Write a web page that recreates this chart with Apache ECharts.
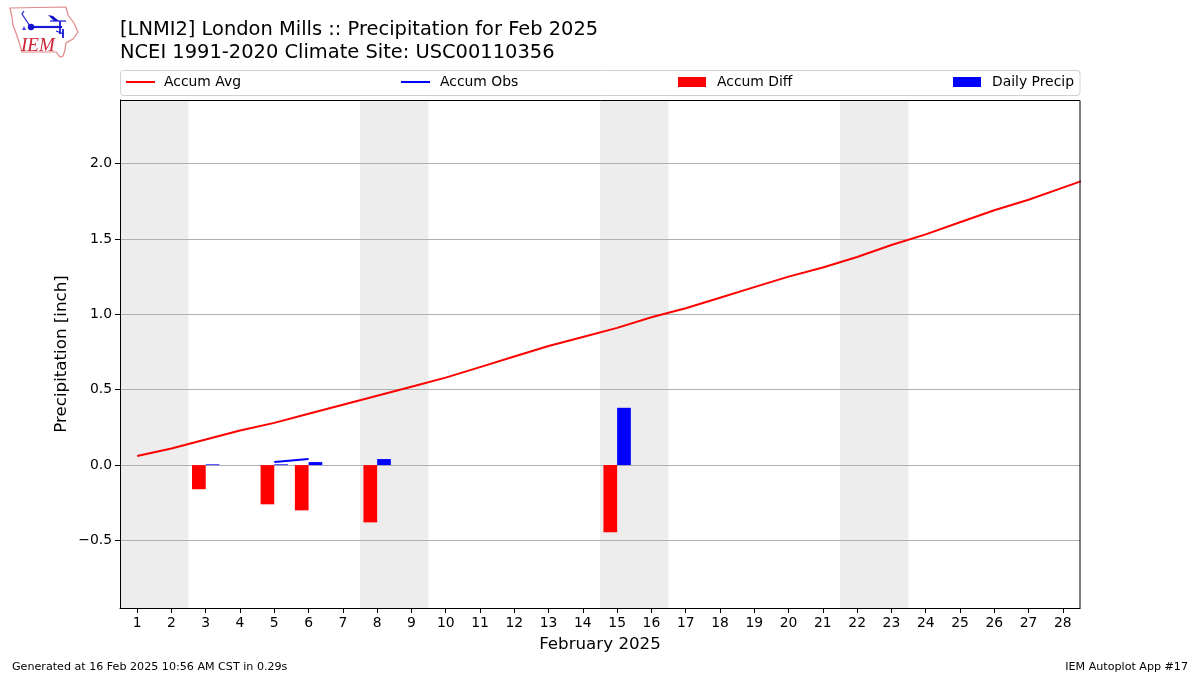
<!DOCTYPE html>
<html><head><meta charset="utf-8">
<style>html,body{margin:0;padding:0;background:#fff}#c{width:1200px;height:675px}</style>
<script src="https://cdn.jsdelivr.net/npm/echarts@6/dist/echarts.min.js"></script>
</head><body><div id="c"></div>
<script>
const titleLines = ['[LNMI2] London Mills :: Precipitation for Feb 2025', 'NCEI 1991-2020 Climate Site: USC00110356'];
const dayTicks = [1,2,3,4,5,6,7,8,9,10,11,12,13,14,15,16,17,18,19,20,21,22,23,24,25,26,27,28];
const yTicks = [-0.5,0,0.5,1,1.5,2];
const avgDays = [1,2,3,4,5,6,7,8,9,10,11,12,13,14,15,16,17,18,19,20,21,22,23,24,25,26,27,28,29];
const accumAvg = [0.06,0.11,0.17,0.23,0.28,0.34,0.40,0.46,0.52,0.58,0.65,0.72,0.79,0.85,0.91,0.98,1.04,1.11,1.18,1.25,1.31,1.38,1.46,1.53,1.61,1.69,1.76,1.84,1.92];
const obsDays = [5,6];
const accumObs = [0.02,0.04];
const diffDays = [3,5,6,8,15];
const accumDiff = [-0.16,-0.26,-0.30,-0.38,-0.445];
const precipDays = [3,5,6,8,15];
const dailyPrecip = [0.005,0.005,0.02,0.04,0.38];
const weekends = [[0.5,2.5],[7.5,9.5],[14.5,16.5],[21.5,23.5]];

const font = '"DejaVu Sans"';
const zip = (a,b)=>a.map((v,i)=>[v,b[i]]);
const chart = echarts.init(document.getElementById('c'));
const legendBase = {top:75,itemGap:0,padding:0,selectedMode:false};
const legendText = pad => ({fontFamily:font,fontSize:13.9,color:'#000',padding:[0,0,0,pad]});
const blue='#0000ff', red='#ff0000';
const L=120,T=100,R=1080,B=608;
chart.setOption({
  animation:false,
  backgroundColor:'#fff',
  grid:{left:L,top:T,width:R-L,height:B-T,containLabel:false},
  xAxis:{type:'value',min:0.5,max:28.5,interval:1,
    name:'February 2025',nameLocation:'middle',nameGap:28,nameMoveOverlap:false,
    nameTextStyle:{fontFamily:font,fontSize:16.7,color:'#000'},
    axisLine:{show:true,onZero:false,lineStyle:{color:'#000',width:1}},
    axisTick:{show:true,length:5,customValues:dayTicks,lineStyle:{color:'#000'}},
    axisLabel:{customValues:dayTicks,fontFamily:font,fontSize:13.9,color:'#000',margin:8,formatter:v=>String(v)},
    splitLine:{show:false}},
  yAxis:{type:'value',min:-0.9476,max:2.4211,interval:0.5,z:5,
    name:'Precipitation [inch]',nameLocation:'middle',nameGap:50,nameRotate:90,nameMoveOverlap:false,
    nameTextStyle:{fontFamily:font,fontSize:16.7,color:'#000'},
    axisLine:{show:true,onZero:false,lineStyle:{color:'#000',width:1}},
    axisTick:{show:true,length:5,customValues:yTicks,lineStyle:{color:'#000'}},
    axisLabel:{customValues:yTicks,fontFamily:font,fontSize:13.9,color:'#000',margin:8,
      formatter:v=>v.toFixed(1).replace('-','\u2212')},
    splitLine:{show:true,lineStyle:{color:'#b0b0b0',width:1}}},
  legend:[
    Object.assign({},legendBase,{left:126,textStyle:legendText(4),data:[{name:'Accum Avg',icon:'rect'}],itemWidth:29,itemHeight:2}),
    Object.assign({},legendBase,{left:401,textStyle:legendText(5),data:[{name:'Accum Obs',icon:'rect'}],itemWidth:29,itemHeight:2}),
    Object.assign({},legendBase,{left:678,textStyle:legendText(6),data:[{name:'Accum Diff',icon:'rect'}],itemWidth:28,itemHeight:10}),
    Object.assign({},legendBase,{left:953,textStyle:legendText(6),data:[{name:'Daily Precip',icon:'rect'}],itemWidth:28,itemHeight:10})
  ],
  series:[
    {name:'Weekend',type:'line',data:[],z:1,silent:true,
      markArea:{silent:true,z:1,itemStyle:{color:'#ededed',opacity:1},label:{show:false},
        data:weekends.map(w=>[{xAxis:w[0]},{xAxis:w[1]}])}},
    {name:'Accum Diff',type:'bar',data:zip(diffDays,accumDiff),barWidth:13.7,barGap:'0%',
      itemStyle:{color:red},z:6},
    {name:'Daily Precip',type:'bar',data:zip(precipDays,dailyPrecip),barWidth:13.7,barGap:'0%',
      itemStyle:{color:blue},z:6},
    {name:'Accum Avg',type:'line',data:zip(avgDays,accumAvg),showSymbol:false,symbol:'none',clip:true,
      lineStyle:{color:red,width:2},itemStyle:{color:red},z:7},
    {name:'Accum Obs',type:'line',data:zip(obsDays,accumObs),showSymbol:false,symbol:'none',clip:true,
      lineStyle:{color:blue,width:2},itemStyle:{color:blue},z:7}
  ],
  graphic:[
    {type:'rect',z:10,silent:true,shape:{x:120.5,y:100.5,width:959.5,height:508},style:{fill:'none',stroke:'#000',lineWidth:1}},
    {type:'rect',z:-1,silent:true,shape:{x:120.5,y:70.5,width:959.5,height:25,r:3},style:{fill:'#fff',stroke:'#d0d0d0',lineWidth:1}},
    {type:'text',silent:true,left:120,top:18.5,style:{text:titleLines.join('\n'),fontFamily:font,fontSize:19.45,lineHeight:23,fill:'#000'}},
    {type:'text',silent:true,left:12,top:662,style:{text:'Generated at 16 Feb 2025 10:56 AM CST in 0.29s',fontFamily:font,fontSize:11.12,fill:'#000'}},
    {type:'text',silent:true,right:12,top:662,style:{text:'IEM Autoplot App #17',fontFamily:font,fontSize:11.12,fill:'#000'}},
    {type:'group',silent:true,children:[
      {type:'polygon',shape:{points:[[10,8],[66,7],[68,15],[74,23],[78,32],[73,39],[66,43],[65,50],[63,56],[60,57],[56,52],[22,52],[19,42],[16,33],[13,25],[12,17]]},style:{fill:'#fff',stroke:'#e08888',lineWidth:1.2}},
      {type:'line',shape:{x1:31,y1:27,x2:62,y2:27},style:{stroke:'#1818d8',lineWidth:2.2}},
      {type:'circle',shape:{cx:31,cy:27,r:3.2},style:{fill:'#1111cc'}},
      {type:'polygon',shape:{points:[[48,15],[53,16],[59,21],[54,21]]},style:{fill:'#1111cc'}},
      {type:'line',shape:{x1:50,y1:21,x2:66,y2:21},style:{stroke:'#1818d8',lineWidth:1.2}},
      {type:'line',shape:{x1:60,y1:21,x2:60,y2:34},style:{stroke:'#1818d8',lineWidth:1.8}},
      {type:'line',shape:{x1:63,y1:29,x2:63,y2:38},style:{stroke:'#1818d8',lineWidth:1.8}},
      {type:'line',shape:{x1:56,y1:31,x2:64,y2:34},style:{stroke:'#1818d8',lineWidth:1.2}},
      {type:'polyline',shape:{points:[[24,11],[22,14],[30,26]]},style:{stroke:'#2a2add',fill:'none',lineWidth:1.3}},
      {type:'polygon',shape:{points:[[24,26],[26,30],[22,30]]},style:{fill:'#4444dd'}},
      {type:'text',left:21,top:36,style:{text:'IEM',fontFamily:'"Liberation Serif"',fontStyle:'italic',fontSize:19,fill:'#cc2233'}}
    ]}
  ]
});
</script></body></html>
